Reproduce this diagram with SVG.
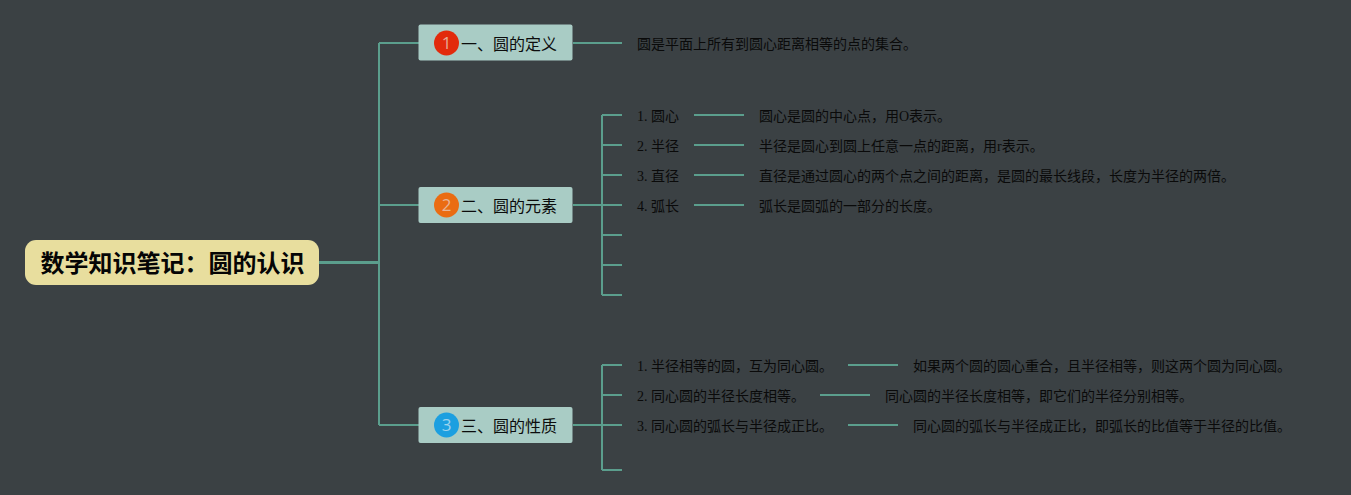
<svg xmlns="http://www.w3.org/2000/svg" width="1351" height="495" viewBox="0 0 1351 495">
<style>
.c{fill:none;stroke:#5b9e8d;stroke-width:2}
.cj{font-family:"Liberation Serif","Noto Sans CJK SC",serif}
.t{font-size:14px;fill:#0a0a0a}
.m{font-size:16px;fill:#0c0c0c;font-family:"Liberation Sans","Noto Sans CJK SC",sans-serif}
.n{font-size:17px;fill:#e8c8b8;font-family:"Open Sans",sans-serif;text-anchor:middle;opacity:.8}
.b{fill:#a9ccc5}
</style>
<rect width="1351" height="495" fill="#3b4144"/>
<g id="connectors" class="c">
<path d="M319 262.500H380" stroke-width="3"/>
<path d="M379 262V43M379 262V425M379 43H419M379 205H419M379 425H419" />
<path d="M573 43H622"/>
<path d="M573 205H602M602 115V295M602 115H622M602 145H622M602 175H622M602 205H622M602 235H622M602 265H622M602 295H622"/>
<path d="M573 425H602M602 365V470M602 365H622M602 395H622M602 425H622M602 470H622"/>
<path d="M694 115H744M694 145H744M694 175H744M694 205H744M848 365H898M820 395H870M848 425H898"/>
</g>
<g id="root"><rect x="25" y="240" width="294" height="45" rx="11" fill="#e8de9e"/><text x="40.500" y="272" font-size="24" font-weight="700" fill="#050505" font-family="'Liberation Sans','Noto Sans CJK SC',sans-serif">数学知识笔记：圆的认识</text></g>
<g id="b1"><rect class="b" x="418.500" y="24.500" width="154" height="36" rx="2"/><circle cx="446.500" cy="43" r="12.500" fill="#e22a0c"/><text class="n" x="446.500" y="49">1</text><text class="m" x="461" y="49.500">一、圆的定义</text></g>
<g id="b2"><rect class="b" x="418.500" y="187" width="154" height="36" rx="2"/><circle cx="446.500" cy="205" r="12.500" fill="#ea6c12"/><text class="n" x="446.500" y="211">2</text><text class="m" x="461" y="211.500">二、圆的元素</text></g>
<g id="b3"><rect class="b" x="418.500" y="407" width="154" height="36" rx="2"/><circle cx="446.500" cy="425" r="12.500" fill="#1c9fe0"/><text class="n" x="446.500" y="431" style="fill:#bfe0f2">3</text><text class="m" x="461" y="431.500">三、圆的性质</text></g>
<g id="d0"><text class="t cj" x="637" y="49">圆是平面上所有到圆心距离相等的点的集合。</text></g>
<g id="e1"><text class="t cj" x="637" y="121">1. 圆心</text><text class="t cj" x="759" y="121">圆心是圆的中心点，用O表示。</text></g>
<g id="e2"><text class="t cj" x="637" y="151">2. 半径</text><text class="t cj" x="759" y="151">半径是圆心到圆上任意一点的距离，用r表示。</text></g>
<g id="e3"><text class="t cj" x="637" y="181">3. 直径</text><text class="t cj" x="759" y="181">直径是通过圆心的两个点之间的距离，是圆的最长线段，长度为半径的两倍。</text></g>
<g id="e4"><text class="t cj" x="637" y="211">4. 弧长</text><text class="t cj" x="759" y="211">弧长是圆弧的一部分的长度。</text></g>
<g id="p1"><text class="t cj" x="637" y="371">1. 半径相等的圆，互为同心圆。</text><text class="t cj" x="913" y="371">如果两个圆的圆心重合，且半径相等，则这两个圆为同心圆。</text></g>
<g id="p2"><text class="t cj" x="637" y="401">2. 同心圆的半径长度相等。</text><text class="t cj" x="885" y="401">同心圆的半径长度相等，即它们的半径分别相等。</text></g>
<g id="p3"><text class="t cj" x="637" y="431">3. 同心圆的弧长与半径成正比。</text><text class="t cj" x="913" y="431">同心圆的弧长与半径成正比，即弧长的比值等于半径的比值。</text></g>
</svg>
